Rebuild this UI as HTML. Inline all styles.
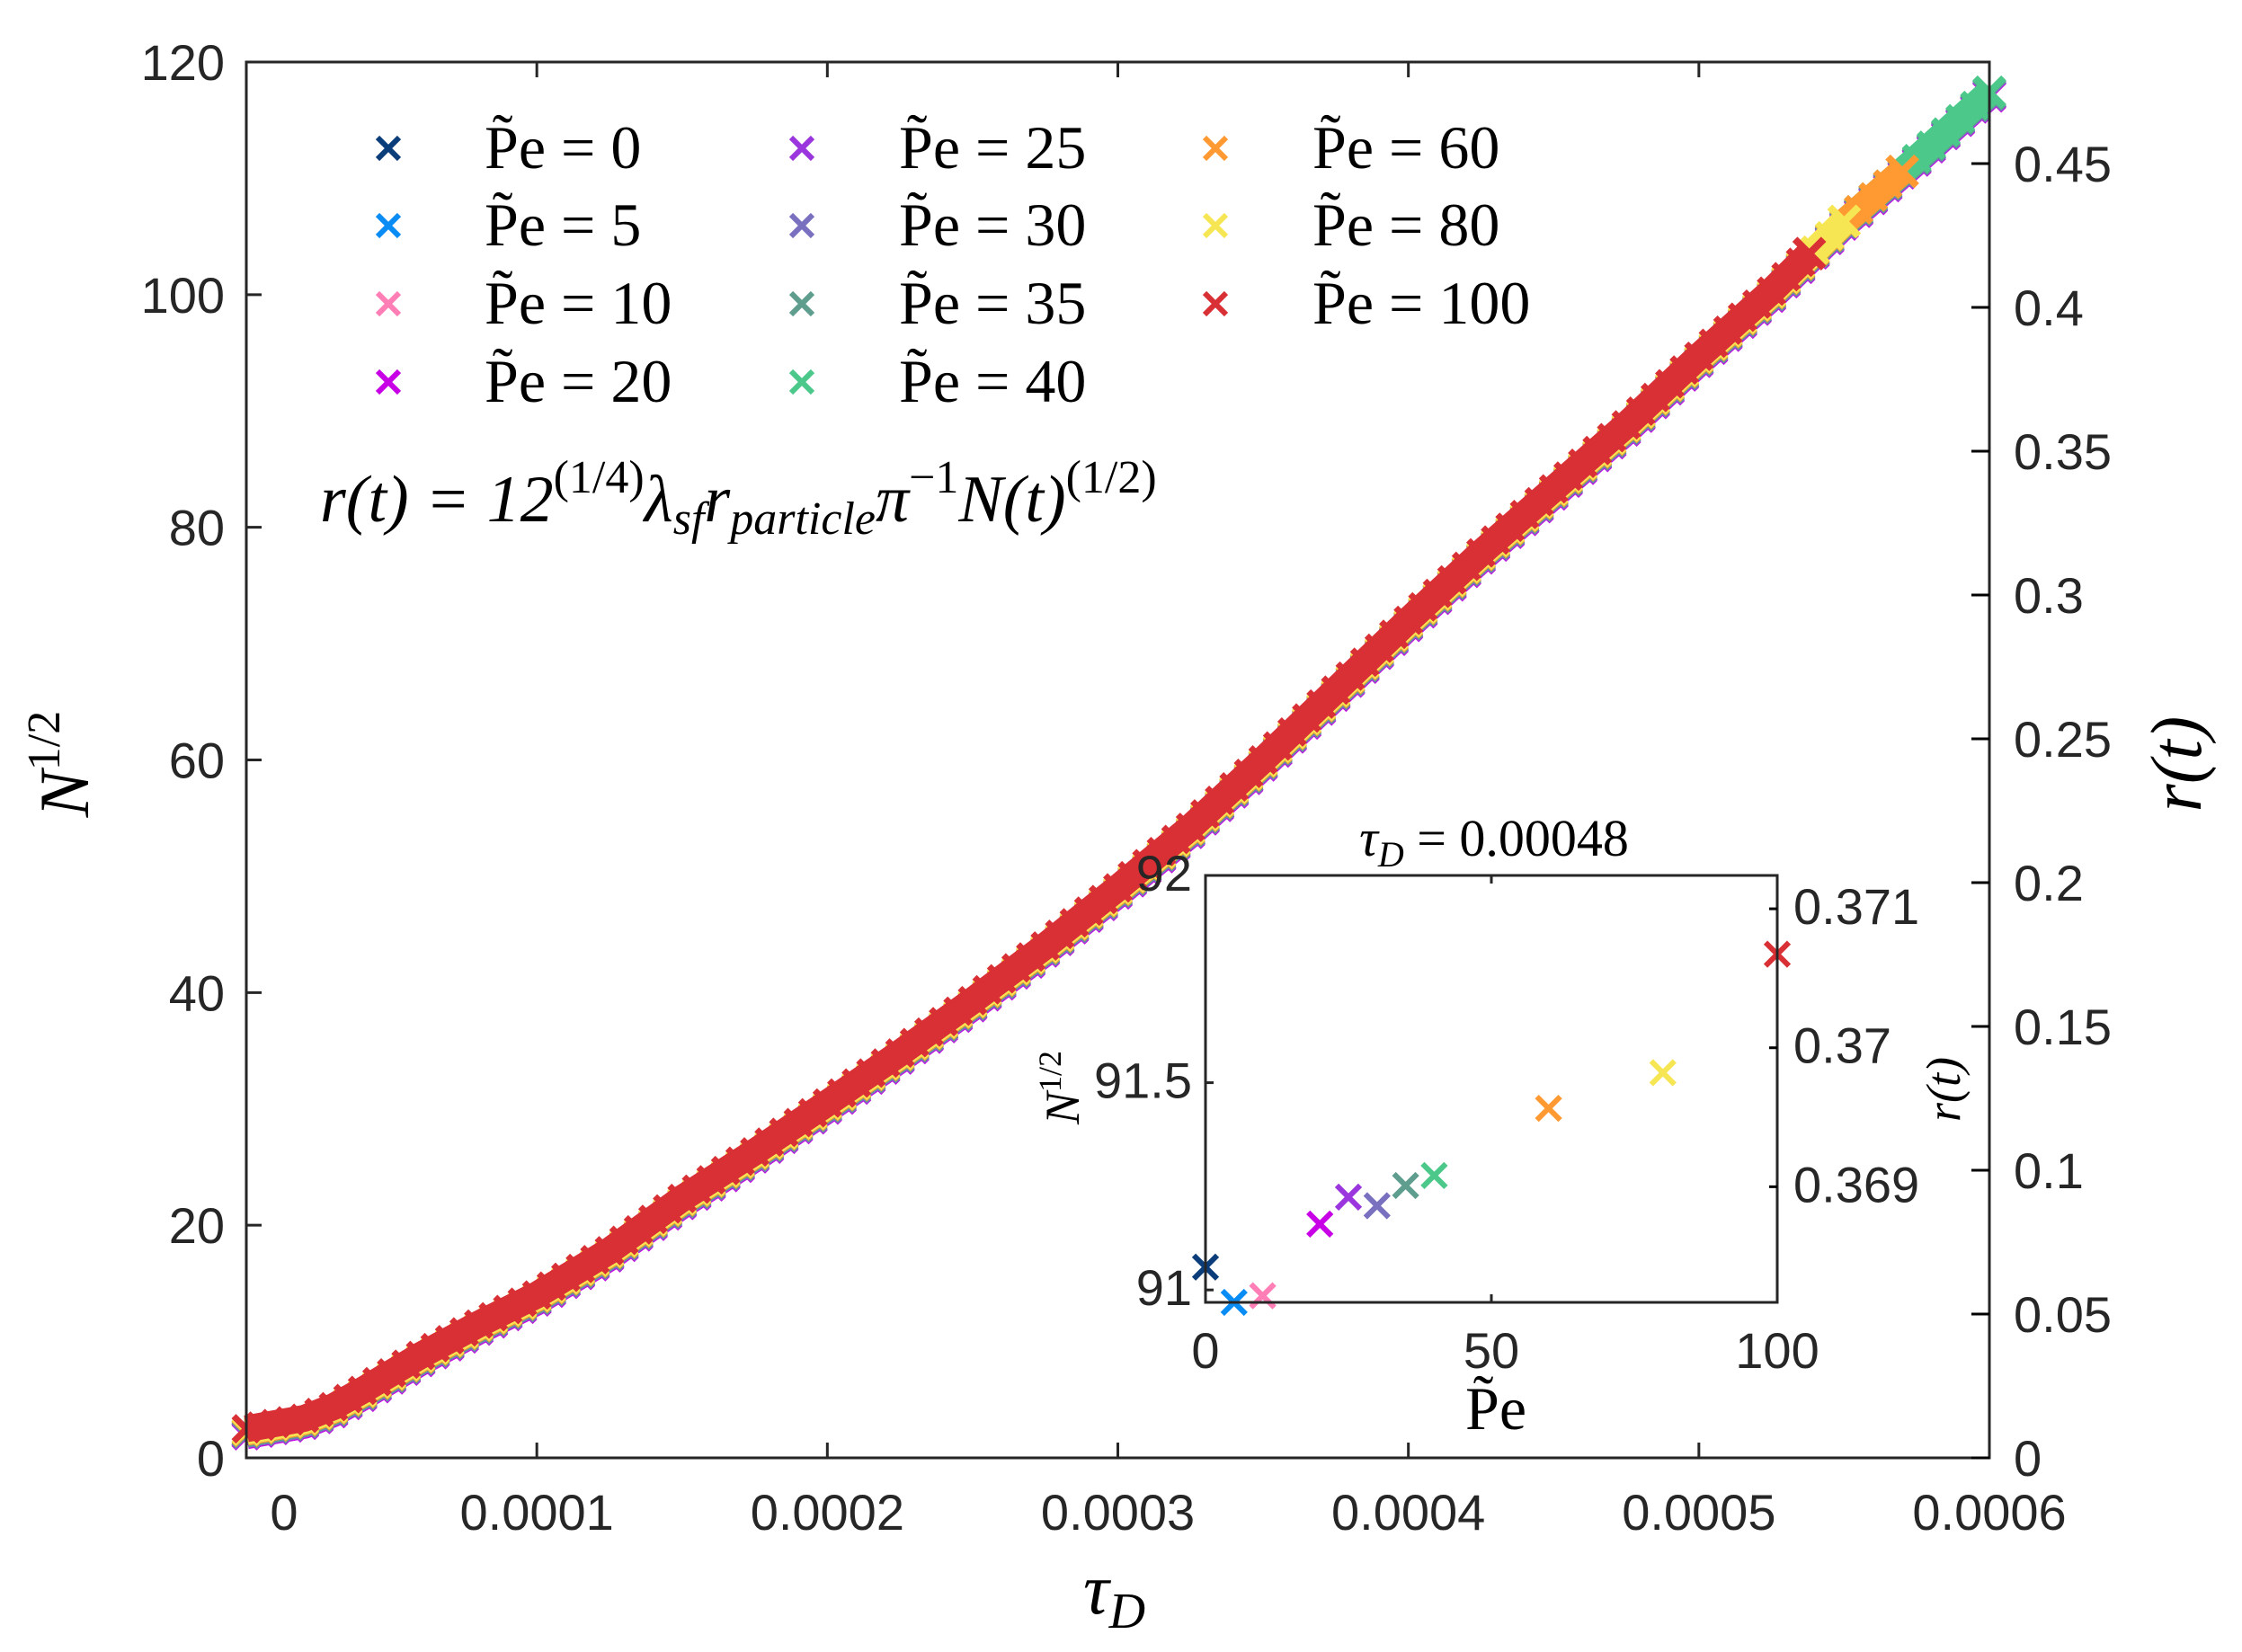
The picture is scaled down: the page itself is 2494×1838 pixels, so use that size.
<!DOCTYPE html>
<html><head><meta charset="utf-8"><style>
html,body{margin:0;padding:0;background:#fff;}
svg{display:block;}
.tk{font-family:"Liberation Sans",sans-serif;font-size:56px;fill:#262626;}
.lg{font-family:"Liberation Serif",serif;font-size:68px;fill:#000;}
.it{font-family:"Liberation Serif",serif;font-style:italic;fill:#000;}
</style></head><body>
<svg id="chart" xmlns="http://www.w3.org/2000/svg" width="2494" height="1838" viewBox="0 0 2494 1838">
<rect x="0" y="0" width="2494" height="1838" fill="#fff"/>
<g id="main-marks"></g>
<g id="main-axes"></g>
<g id="legend"></g>
<text class="it" x="356" y="580" font-size="74">r(t) = 12<tspan font-style="normal" font-size="52" dy="-32">(1/4)</tspan><tspan dy="32">λ</tspan><tspan font-size="52" dy="14">sf</tspan><tspan dy="-14">r</tspan><tspan font-size="52" dy="14">particle</tspan><tspan dy="-14">π</tspan><tspan font-style="normal" font-size="52" dy="-32">−1</tspan><tspan dy="32">N(t)</tspan><tspan font-style="normal" font-size="52" dy="-32">(1/2)</tspan></text>
<text class="it" x="1205" y="1795" font-size="80">τ<tspan font-size="56" dy="16">D</tspan></text>
<text class="it" font-size="78" transform="translate(98,850) rotate(-90)" text-anchor="middle">N<tspan font-style="normal" font-size="52" dy="-32">1/2</tspan></text>
<text class="it" font-size="80" transform="translate(2448,850) rotate(-90)" text-anchor="middle">r(t)</text>
<rect x="1341" y="974" width="636" height="475" fill="#fff"/>
<g id="inset-marks"></g>
<g id="inset-axes"></g>
<text class="it" x="1662" y="952" font-size="58" text-anchor="middle">τ<tspan font-size="40" dy="12">D</tspan><tspan dy="-12" font-style="normal"> = 0.00048</tspan></text>
<text class="lg" x="1664" y="1590" font-size="58" text-anchor="middle">P̃e</text>
<text class="it" font-size="54" transform="translate(1200,1210) rotate(-90)" text-anchor="middle">N<tspan font-style="normal" font-size="36" dy="-20">1/2</tspan></text>
<text class="it" font-size="54" transform="translate(2180,1212) rotate(-90)" text-anchor="middle">r(t)</text>
</svg>
<script>
// ---- main chart data (tau in units of 1e-4) ----
const tauVals = [0,0.2,0.3,0.4,0.6,0.8,1.0,1.25,1.5,1.75,2.0,2.25,2.5,2.75,3.0,3.25,3.5,3.75,4.0,4.25,4.5,4.75,5.0,5.25,5.5,5.75,6.0];
const nVals   = [2.5,3.4,4.4,5.8,8.8,11.5,14,17.8,22.3,26.3,30.5,34.8,39.3,44,49,54.2,60,66,72,77.8,83.3,88.8,94.7,100.3,106.5,112,117.7];
const seriesLabels = ["0","5","10","20","25","30","35","40","60","80","100"];
const seriesColors = ["#0b3d7a","#0a8cf5","#ff7eb6","#c800e6","#9b35dd","#7a70c0","#5f9e8e","#4cc98a","#ff9a33","#f7e654","#d93036"];
const seriesEnd = [6.0,6.0,6.0,6.0,6.0,6.0,6.0,6.0,5.7,5.5,5.38];
const seriesOffset = [-0.5,-0.5,-0.5,-0.6,-0.5,-0.5,-0.4,-0.3,-0.3,-0.2,0];
const yTicks = [0,20,40,60,80,100,120];
const xTicks = [0,1,2,3,4,5,6];
const xTickLabels = ["0","0.0001","0.0002","0.0003","0.0004","0.0005","0.0006"];
const rTicks = [0,0.05,0.1,0.15,0.2,0.25,0.3,0.35,0.4,0.45];
const rTickLabels = ["0","0.05","0.1","0.15","0.2","0.25","0.3","0.35","0.4","0.45"];
// ---- inset data ----
const insetPe = [0,5,10,20,25,30,35,40,60,80,100];
const insetN  = [91.055,90.97,90.986,91.159,91.224,91.203,91.252,91.276,91.438,91.524,91.81];
const insetXTicks = [0,50,100];
const insetYTicks = [91,91.5,92];
const insetYTickLabels = ["91","91.5","92"];
const insetRTicks = [0.369,0.37,0.371];
const insetRTickLabels = ["0.369","0.37","0.371"];

const NS="http://www.w3.org/2000/svg";
const L=274,R=2213,T=69,B=1622;
const xMin=0,xMax=6,yMin=0,yMax=120,rMax=0.4853;
const sx=v=>L+(v-xMin)/(xMax-xMin)*(R-L);
const sy=v=>B-(v-yMin)/(yMax-yMin)*(B-T);
const sr=v=>B-v/rMax*(B-T);
const IL=1341,IR=1977,IT=974,IB=1449;
const isx=v=>IL+v/100*(IR-IL);
const iyMin=90.97,iyMax=92.0;
const isy=v=>IB-(v-iyMin)/(iyMax-iyMin)*(IB-IT);
const irMin=0.368168,irMax=0.37124;
const isr=v=>IB-(v-irMin)/(irMax-irMin)*(IB-IT);

function mk(tag,attrs,parent){const e=document.createElementNS(NS,tag);for(const k in attrs)e.setAttribute(k,attrs[k]);parent.appendChild(e);return e;}
function cross(parent,cx,cy,h,w,color){
  const g=mk('g',{},parent);
  
  
  mk('path',{d:`M${cx-h},${cy-h}L${cx+h},${cy+h}M${cx-h},${cy+h}L${cx+h},${cy-h}`,stroke:color,'stroke-width':w,fill:'none'},g);
  return g;
}

const marks=document.getElementById('main-marks');
function interpN(t){for(let i=1;i<tauVals.length;i++){if(t<=tauVals[i]){const f=(t-tauVals[i-1])/(tauVals[i]-tauVals[i-1]);return nVals[i-1]+f*(nVals[i]-nVals[i-1]);}}return nVals[nVals.length-1];}
for(let s=0;s<seriesLabels.length;s++){
  const g=mk('g',{},marks);
  
  
  const pts=[];
  for(let i=0;i<tauVals.length;i++){ if(tauVals[i]<=seriesEnd[s]) pts.push([tauVals[i],nVals[i]+seriesOffset[s]]); }
  pts.push([seriesEnd[s],interpN(seriesEnd[s])+seriesOffset[s]]);
  const line=mk('polyline',{points:pts.map(p=>sx(p[0])+','+sy(p[1])).join(' '),stroke:seriesColors[s],'stroke-width':30,fill:'none','stroke-linejoin':'round'},g);
  
  
  const step=0.05;
  for(let t=0;t<=seriesEnd[s]+1e-9;t+=step){
    cross(g,sx(t),sy(interpN(t)+seriesOffset[s]),14,7,seriesColors[s]);
  }
  cross(g,sx(seriesEnd[s]),sy(interpN(seriesEnd[s])+seriesOffset[s]),16,8,seriesColors[s]);
}

// main axes
const ax=document.getElementById('main-axes');
mk('rect',{x:L,y:T,width:R-L,height:B-T,fill:'none',stroke:'#262626','stroke-width':3},ax);
xTicks.forEach((v,i)=>{
  const x=sx(v);
  mk('line',{x1:x,y1:B,x2:x,y2:B-17,stroke:'#262626','stroke-width':3},ax);
  mk('line',{x1:x,y1:T,x2:x,y2:T+17,stroke:'#262626','stroke-width':3},ax);
  const t=mk('text',{x:(i===0?x+42:x),y:1702,'text-anchor':'middle',class:'tk'},ax);
  
  
  t.textContent=xTickLabels[i];
});
yTicks.forEach(v=>{
  const y=sy(v);
  mk('line',{x1:L,y1:y,x2:L+17,y2:y,stroke:'#262626','stroke-width':3},ax);
  const t=mk('text',{x:250,y:y+20,'text-anchor':'end',class:'tk'},ax);
  
  
  t.textContent=String(v);
});
rTicks.forEach((v,i)=>{
  const y=sr(v);
  mk('line',{x1:R,y1:y,x2:R-20,y2:y,stroke:'#000','stroke-width':3},ax);
  const t=mk('text',{x:2240,y:y+20,class:'tk'},ax);
  
  
  t.textContent=rTickLabels[i];
});

// legend
const lg=document.getElementById('legend');
const colMarkX=[432,892,1352], colTextX=[539,1000,1460], rowY=[187,273,360,447];
seriesLabels.forEach((lab,i)=>{
  const c=Math.floor(i/4), r=i%4;
  const g=mk('g',{},lg);
  
  
  cross(g,colMarkX[c],rowY[r]-22,12,6,seriesColors[i]);
  const t=mk('text',{x:colTextX[c],y:rowY[r],class:'lg'},g);
  t.textContent='P̃e = '+lab;
});

// inset
const im=document.getElementById('inset-marks');
insetPe.forEach((p,i)=>{
  const g=cross(im,isx(p),isy(insetN[i]),13,6,seriesColors[i]);
  
});
const ia=document.getElementById('inset-axes');
mk('rect',{x:IL,y:IT,width:IR-IL,height:IB-IT,fill:'none',stroke:'#262626','stroke-width':3},ia);
insetXTicks.forEach(v=>{
  const x=isx(v);
  mk('line',{x1:x,y1:IB,x2:x,y2:IB-9,stroke:'#262626','stroke-width':3},ia);
  mk('line',{x1:x,y1:IT,x2:x,y2:IT+9,stroke:'#262626','stroke-width':3},ia);
  const t=mk('text',{x:x,y:1522,'text-anchor':'middle',class:'tk','font-size':48},ia);
  
  
  t.textContent=String(v);
});
insetYTicks.forEach((v,i)=>{
  const y=isy(v);
  mk('line',{x1:IL,y1:y,x2:IL+9,y2:y,stroke:'#262626','stroke-width':3},ia);
  const t=mk('text',{x:1326,y:y+17,'text-anchor':'end',class:'tk','font-size':48},ia);
  
  
  t.textContent=insetYTickLabels[i];
});
insetRTicks.forEach((v,i)=>{
  const y=isr(v);
  mk('line',{x1:IR,y1:y,x2:IR-9,y2:y,stroke:'#000','stroke-width':3},ia);
  const t=mk('text',{x:1995,y:y+17,class:'tk','font-size':48},ia);
  
  
  t.textContent=insetRTickLabels[i];
});
</script>
</body></html>
